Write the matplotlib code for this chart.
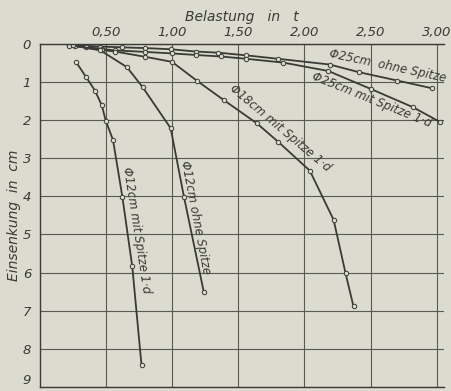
import numpy as np
import matplotlib.pyplot as plt
from matplotlib import font_manager

# Belastung (t) und Einsenkung (cm)
x_25_ohne = [0.22, 0.35, 0.46, 0.62, 0.80, 0.99, 1.18, 1.35, 1.56, 1.80, 2.19, 2.41, 2.70, 2.96]
y_25_ohne = [0.04, 0.06, 0.08, 0.10, 0.12, 0.15, 0.21, 0.24, 0.31, 0.40, 0.55, 0.75, 0.97, 1.17]

x_25_mit = [0.22, 0.35, 0.47, 0.57, 0.80, 1.00, 1.18, 1.37, 1.56, 1.84, 2.18, 2.50, 2.82, 3.02]
y_25_mit = [0.06, 0.09, 0.14, 0.18, 0.22, 0.26, 0.30, 0.34, 0.40, 0.50, 0.72, 1.19, 1.67, 2.05]

x_18_mit = [0.27, 0.47, 0.57, 0.80, 1.00, 1.19, 1.39, 1.64, 1.80, 2.04, 2.22, 2.31, 2.37]
y_18_mit = [0.07, 0.17, 0.21, 0.35, 0.48, 0.98, 1.48, 2.09, 2.57, 3.33, 4.62, 6.02, 6.89]

x_12_ohne = [0.25, 0.46, 0.66, 0.78, 0.99, 1.09, 1.24]
y_12_ohne = [0.05, 0.18, 0.62, 1.15, 2.22, 4.01, 6.51]

x_12_mit = [0.275, 0.35, 0.42, 0.47, 0.50, 0.555, 0.625, 0.70, 0.77]
y_12_mit = [0.48, 0.87, 1.24, 1.62, 2.02, 2.53, 4.01, 5.84, 8.43]

x_ticks = [0.5, 1.0, 1.5, 2.0, 2.5, 3.0]
x_ticklabels = ['0,50', '1,00', '1,50', '2,00', '2,50', '3,00']
y_ticks = [0, 1, 2, 3, 4, 5, 6, 7, 8, 9]

bg = '#dcdbcf'
ink = '#3a3a36'

# schmale Schrift, falls vorhanden
names = {f.name for f in font_manager.fontManager.ttflist}
fam = 'Liberation Sans Narrow' if 'Liberation Sans Narrow' in names else 'DejaVu Sans'
font = dict(family=[fam, 'DejaVu Sans'], style='italic', color=ink)

fig = plt.figure(figsize=(4.52, 3.91), dpi=100, facecolor=bg)
ax = fig.add_axes([0.0874, 0.0102, 0.894, 0.8785], facecolor=bg)

ax.set_xlim(0, 3.05)
ax.set_ylim(9, 0)

curves = [(x_25_ohne, y_25_ohne), (x_25_mit, y_25_mit), (x_18_mit, y_18_mit),
          (x_12_ohne, y_12_ohne), (x_12_mit, y_12_mit)]
for xs, ys in curves:
    ax.plot(xs, ys, color=ink, lw=1.3, marker='o', ms=3.2, mfc=bg, mec=ink, mew=0.7)

ax.set_xticks(x_ticks)
ax.set_xticklabels(x_ticklabels)
ax.set_yticks(y_ticks)
ax.xaxis.tick_top()
ax.xaxis.set_label_position('top')
ax.tick_params(length=0, labelsize=9.5, colors=ink)
ax.tick_params(axis='x', pad=3)
ax.tick_params(axis='y', pad=6)
for lab in ax.get_xticklabels() + ax.get_yticklabels():
    lab.set_fontfamily(font['family'])
    lab.set_fontstyle('italic')
ax.get_yticklabels()[-1].set_va('bottom')
ax.grid(True, color='#5a5a55', lw=0.8)
for s in ['left', 'top', 'bottom']:
    ax.spines[s].set_color(ink)
    ax.spines[s].set_linewidth(1.0)
ax.spines['right'].set_visible(False)

ax.set_xlabel('Belastung   in   t', fontsize=10, labelpad=4, **font)
ax.set_ylabel('Einsenkung  in  cm', fontsize=10, labelpad=1, **font)

ax.text(2.63, 0.60, 'Φ25cm  ohne Spitze', rotation=-12, fontsize=8.5, ha='center', va='center', **font)
ax.text(2.51, 1.48, 'Φ25cm mit Spitze 1·d', rotation=-22, fontsize=8.5, ha='center', va='center', **font)
ax.text(1.82, 2.21, 'Φ18cm mit Spitze 1·d', rotation=-40, fontsize=8.5, ha='center', va='center', **font)
ax.text(1.18, 4.55, 'Φ12cm ohne Spitze', rotation=-79, fontsize=8.5, ha='center', va='center', **font)
ax.text(0.728, 4.88, 'Φ12cm mit Spitze 1·d', rotation=-81, fontsize=8.5, ha='center', va='center', **font)

fig.savefig('out.png', dpi=100, facecolor=bg)
